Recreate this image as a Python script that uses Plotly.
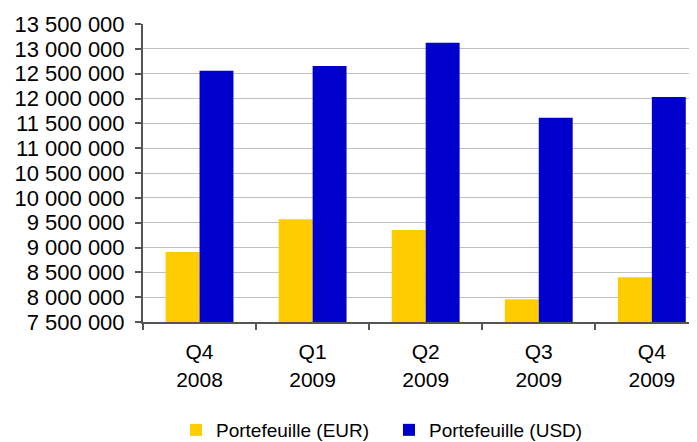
import plotly.graph_objects as go

categories = ["Q4<br>2008", "Q1<br>2009", "Q2<br>2009", "Q3<br>2009", "Q4<br>2009"]
eur_values = [8910000, 9570000, 9350000, 7960000, 8400000]
usd_values = [12560000, 12655000, 13120000, 11610000, 12030000]

fig = go.Figure()
fig.add_trace(go.Bar(x=categories, y=eur_values, name="Portefeuille (EUR)",
                     marker=dict(color="#FFCC00", line=dict(width=0))))
fig.add_trace(go.Bar(x=categories, y=usd_values, name="Portefeuille (USD)",
                     marker=dict(color="#0000CC", line=dict(width=0))))

font_family = "Liberation Sans, Arial, sans-serif"
fig.update_layout(
    width=697, height=442,
    margin=dict(l=135, r=0, t=16, b=128, autoexpand=False),
    paper_bgcolor="white", plot_bgcolor="white",
    barmode="group", bargap=0.4, bargroupgap=0,
    separators=", ",
    font=dict(family=font_family, size=21, color="black"),
    showlegend=True,
    legend=dict(orientation="h", xref="container", yref="container",
                x=168 / 697, xanchor="left", y=1 - 422 / 442, yanchor="middle",
                font=dict(size=19, family=font_family), traceorder="normal",
                bgcolor="rgba(0,0,0,0)", itemwidth=30, entrywidth=168,
                entrywidthmode="pixels"),
)
fig.update_xaxes(
    type="category", range=[-0.5, 4.47], automargin=False,
    showline=True, linecolor="#555555", linewidth=2,
    ticks="outside", tickson="boundaries", ticklen=6, tickcolor="#555555", tickwidth=2,
    showgrid=False, tickfont=dict(size=21, family=font_family),
    ticklabelstandoff=10,
)
fig.update_yaxes(
    range=[7500000, 13500000], dtick=500000, tick0=7500000, automargin=False,
    tickformat=",d",
    showline=True, linecolor="#555555", linewidth=2,
    ticks="outside", ticklen=6, tickcolor="#555555", tickwidth=2,
    showgrid=True, gridcolor="#c0c0c0", gridwidth=1,
    zeroline=False, tickfont=dict(size=22, family=font_family),
    ticklabelstandoff=6,
)

fig.write_html("out.html")
